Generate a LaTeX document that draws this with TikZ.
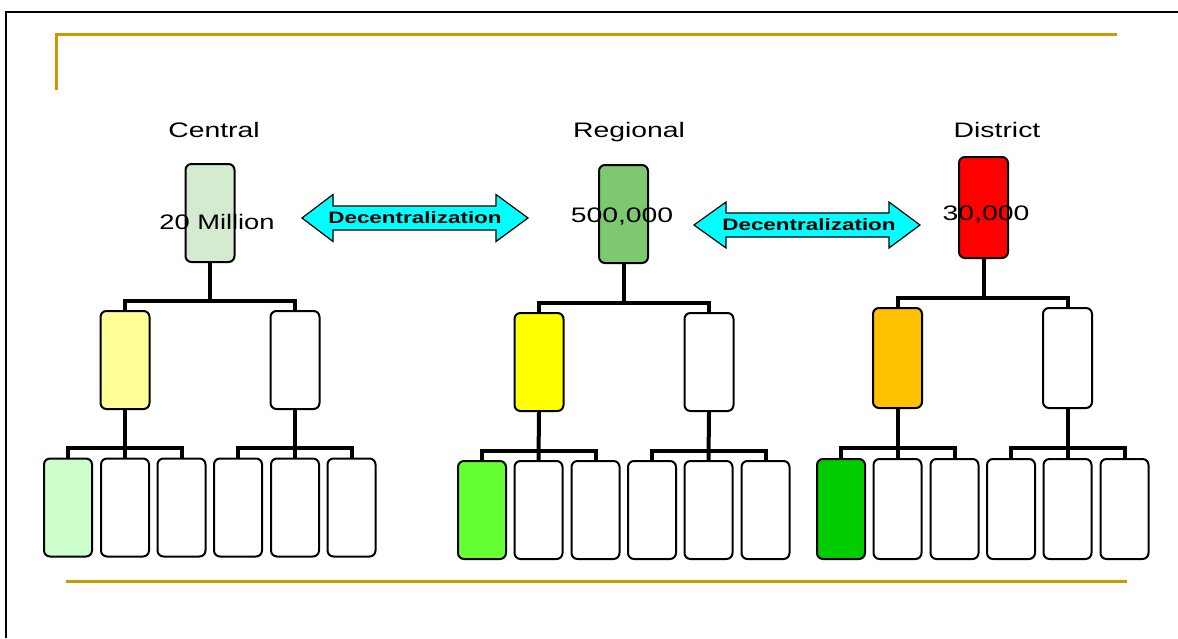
\documentclass[tikz,border=0pt]{standalone}
\usepackage{fontspec}
\setmainfont{Liberation Sans}
\usepackage{graphicx}
\definecolor{goldline}{HTML}{CC9900}
\definecolor{cTop}{HTML}{D5EBD0}
\definecolor{cMid}{HTML}{FFFF99}
\definecolor{cLow}{HTML}{CCFFCC}
\definecolor{rTop}{HTML}{7DC870}
\definecolor{rMid}{HTML}{FFFF00}
\definecolor{rLow}{HTML}{66FF33}
\definecolor{dTop}{HTML}{FF0000}
\definecolor{dMid}{HTML}{FFC000}
\definecolor{dLow}{HTML}{00CC00}
\definecolor{arrowfill}{HTML}{00FFFF}
\begin{document}
\begin{tikzpicture}[x=1pt,y=-1pt,
  unit/.style={draw=black, line width=2pt, rounded corners=6pt, inner sep=0pt,
               minimum width=49pt, minimum height=98pt, fill=white},
  leaf/.style={unit, minimum width=48pt},
  link/.style={line width=4pt, line join=miter},
  frameline/.style={line width=2pt, black},
  rule/.style={line width=3pt, goldline},
  lbl/.style={font=\fontsize{21}{25}\selectfont, anchor=base, inner sep=0pt},
  arrowshape/.style={fill=arrowfill, draw=black, line width=1.2pt, line join=miter},
  arrowtext/.style={font=\fontsize{16.5}{19}\selectfont\bfseries, inner sep=0pt}
]
\useasboundingbox (0,0) rectangle (1178,638);
\fill[white] (0,0) rectangle (1178,638);

% slide frame and gold rules
\draw[frameline] (6,638) -- (6,12) -- (1178,12);
\draw[rule] (56,90) -- (56,34) -- (1117,34);
\draw[rule] (66,581) -- (1127,581);

% ---------- Central ----------
\node[unit, fill=cTop] (ct) at (210,213) {};
\node[unit, fill=cMid] (cm1) at (125,360) {};
\node[unit] (cm2) at (295,360) {};
\node[leaf, fill=cLow] (cb1) at (68,507.5) {};
\node[leaf] (cb2) at (125,507.5) {};
\node[leaf] (cb3) at (181.5,507.5) {};
\node[leaf] (cb4) at (238,507.5) {};
\node[leaf] (cb5) at (295,507.5) {};
\node[leaf] (cb6) at (351.5,507.5) {};
\coordinate (cj) at (210,301);
\coordinate (cj1) at (125,448);
\coordinate (cj2) at (295,448);
\draw[link] (ct.south) -- (cj);
\draw[link] (cm1.north) |- (cj) -| (cm2.north);
\draw[link] (cm1.south) -- (cb2.north);
\draw[link] (cb1.north) |- (cj1) -| (cb3.north);
\draw[link] (cm2.south) -- (cb5.north);
\draw[link] (cb4.north) |- (cj2) -| (cb6.north);
\node[lbl] (clabel) at (214,137) {\scalebox{1.35}[1]{Central}};
\node[lbl] (cpop) at (217,229) {\scalebox{1.3}[1]{20 Million}};

% ---------- Regional ----------
\node[unit, fill=rTop] (rt) at (623.5,214) {};
\node[unit, fill=rMid] (rm1) at (539,362) {};
\node[unit] (rm2) at (709,362) {};
\node[leaf, fill=rLow] (rb1) at (482,510) {};
\node[leaf] (rb2) at (538.5,510) {};
\node[leaf] (rb3) at (595.5,510) {};
\node[leaf] (rb4) at (652,510) {};
\node[leaf] (rb5) at (708.5,510) {};
\node[leaf] (rb6) at (765.5,510) {};
\coordinate (rj) at (623.5,303);
\coordinate (rj1) at (539,451);
\coordinate (rj2) at (709,451);
\draw[link] (rt.south) -- (rj);
\draw[link] (rm1.north) |- (rj) -| (rm2.north);
\draw[link] (rm1.south) -- (rb2.north);
\draw[link] (rb1.north) |- (rj1) -| (rb3.north);
\draw[link] (rm2.south) -- (rb5.north);
\draw[link] (rb4.north) |- (rj2) -| (rb6.north);
\node[lbl] (rlabel) at (629,137) {\scalebox{1.35}[1]{Regional}};
\node[lbl] (rpop) at (622,222) {\scalebox{1.35}[1]{500,000}};

% ---------- District ----------
\node[unit, fill=dTop, minimum height=101pt] (dt) at (983.5,207.5) {};
\node[unit, fill=dMid, minimum height=100pt] (dm1) at (897.5,358) {};
\node[unit, minimum height=100pt] (dm2) at (1067.5,358) {};
\node[leaf, fill=dLow, minimum height=100pt] (db1) at (841,509) {};
\node[leaf, minimum height=100pt] (db2) at (897.5,509) {};
\node[leaf, minimum height=100pt] (db3) at (954.5,509) {};
\node[leaf, minimum height=100pt] (db4) at (1011,509) {};
\node[leaf, minimum height=100pt] (db5) at (1067.5,509) {};
\node[leaf, minimum height=100pt] (db6) at (1124.5,509) {};
\coordinate (dj) at (983.5,298);
\coordinate (dj1) at (897.5,448);
\coordinate (dj2) at (1067.5,448);
\draw[link] (dt.south) -- (dj);
\draw[link] (dm1.north) |- (dj) -| (dm2.north);
\draw[link] (dm1.south) -- (db2.north);
\draw[link] (db1.north) |- (dj1) -| (db3.north);
\draw[link] (dm2.south) -- (db5.north);
\draw[link] (db4.north) |- (dj2) -| (db6.north);
\node[lbl] (dlabel) at (997,137) {\scalebox{1.35}[1]{District}};
\node[lbl] (dpop) at (986,220) {\scalebox{1.35}[1]{30,000}};

% ---------- Decentralization arrows ----------
\draw[arrowshape] (302,218) -- (333,194.5) -- (333,206) -- (496,206) -- (496,194.5)
  -- (528,218) -- (496,241.5) -- (496,230) -- (333,230) -- (333,241.5) -- cycle;
\node[arrowtext] (a1) at (415,218) {\scalebox{1.36}[1]{Decentralization}};
\draw[arrowshape] (694,225) -- (726,202) -- (726,213) -- (889,213) -- (889,202)
  -- (920,225) -- (889,248) -- (889,237) -- (726,237) -- (726,248) -- cycle;
\node[arrowtext] (a2) at (809,225) {\scalebox{1.36}[1]{Decentralization}};
\end{tikzpicture}
\end{document}
